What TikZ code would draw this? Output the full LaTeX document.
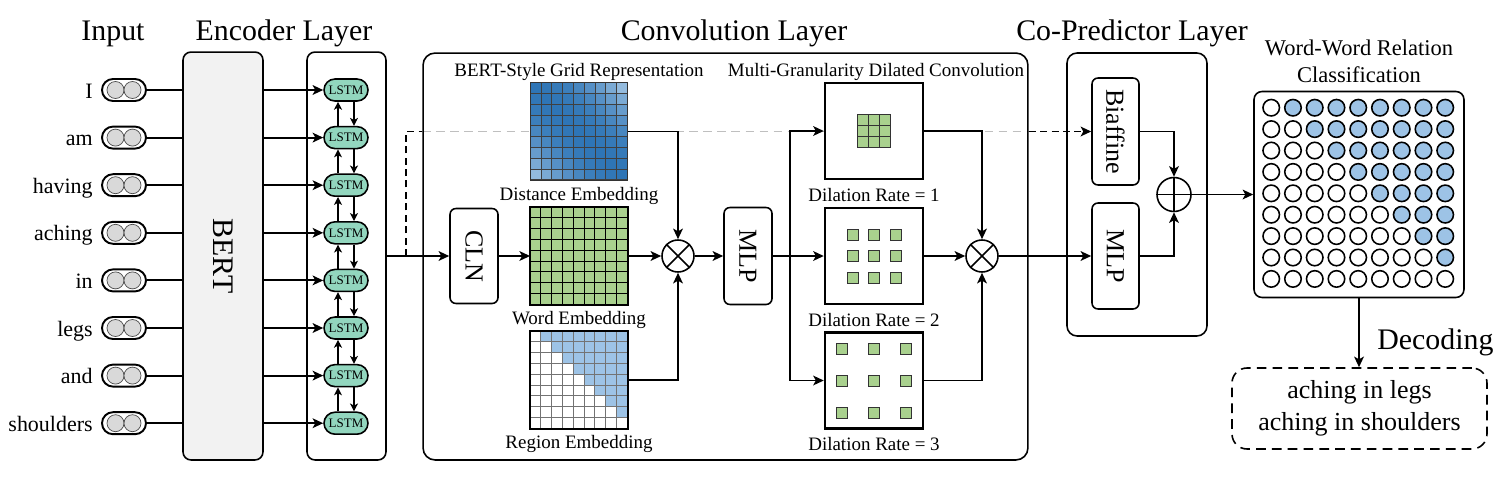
\documentclass[tikz,border=0pt]{standalone}
\usepackage{fontspec}
\setmainfont{Liberation Serif}
\usetikzlibrary{arrows.meta, positioning, calc}
\definecolor{tokgray}{RGB}{217,217,217}
\definecolor{bertgray}{RGB}{242,242,242}
\definecolor{lstmgreen}{RGB}{146,214,190}
\definecolor{gridgreen}{RGB}{169,209,142}
\definecolor{regblue}{RGB}{157,195,230}
\definecolor{darkblue}{RGB}{46,117,182}
\definecolor{paleblue}{RGB}{189,215,238}
\pgfdeclarelayer{bg}
\pgfsetlayers{bg,main}

\begin{document}
\begin{tikzpicture}[x=0.02cm, y=-0.02cm,
  conn/.style={line width=1.1pt},
  arr/.style={conn, -{Stealth[length=6pt,width=5.5pt,inset=1.5pt]}},
  sarr/.style={conn, -{Stealth[length=4.5pt,width=4.5pt,inset=1.2pt]}},
  dline/.style={line width=1.1pt, dash pattern=on 4pt off 2.5pt},
  gline/.style={gray!50, line width=1pt, dash pattern=on 5pt off 3pt},
  title/.style={font=\fontsize{17}{20}\selectfont, anchor=base, inner sep=0pt},
  capt/.style={font=\fontsize{10.8}{13}\selectfont, anchor=base, inner sep=0pt},
  word/.style={font=\fontsize{12.5}{15}\selectfont, anchor=base east, inner sep=0pt},
  tok/.style={draw, line width=1.1pt, fill=white, rounded corners=0.22cm, minimum width=0.88cm, minimum height=0.44cm, inner sep=0pt},
  tokdot/.style={circle, draw=black!70, line width=0.4pt, fill=tokgray, minimum size=0.34cm, inner sep=0pt},
  layerbox/.style={draw, line width=0.9pt, rounded corners=0.2cm},
  lstm/.style={draw, line width=0.9pt, fill=lstmgreen, rounded corners=0.22cm, minimum width=0.88cm, minimum height=0.44cm, inner sep=0pt, font=\fontsize{7.4}{8}\selectfont},
  rbox/.style={draw, line width=0.9pt, fill=white, rounded corners=0.12cm, inner sep=0pt, minimum width=0.96cm, font=\fontsize{14.8}{16}\selectfont},
  gridbox/.style={minimum size=1.944cm, inner sep=0pt},
  dilbox/.style={draw, line width=1.4pt, fill=white, minimum width=1.96cm, minimum height=1.92cm, inner sep=0pt},
  kernel/.style={draw=black!80, line width=0.5pt, fill=gridgreen, minimum size=0.22cm, inner sep=0pt},
  op/.style={circle, draw, line width=0.9pt, fill=white, minimum size=0.64cm, inner sep=0pt},
  cell/.style={circle, draw, line width=0.9pt, minimum size=0.33cm, inner sep=0pt}
]
  \useasboundingbox (0,0) rectangle (1495,477);

  % layer titles
  \node[title] at (113,40) {Input};
  \node[title] at (284,40) {Encoder Layer};
  \node[title] at (734,40) {Convolution Layer};
  \node[title] at (1132,40) {Co-Predictor Layer};

  % encoder layer
  \node[layerbox, fill=bertgray, rounded corners=0.16cm, minimum width=1.6cm, minimum height=8.16cm] (bert) at (223,256) {\rotatebox{-90}{\fontsize{17}{20}\selectfont BERT}};
  \node[layerbox, rounded corners=0.16cm, minimum width=1.58cm, minimum height=8.16cm] (enc) at (346.5,256) {};

  \foreach \w [count=\i from 0] in {I,am,having,aching,in,legs,and,shoulders}{
    \pgfmathsetmacro\yy{90+47.6*\i}
    \node[word] (w\i) at (93,\yy+8) {\w};
    \node[tok] (t\i) at (124,\yy) {};
    \node[tokdot] at ([xshift=-0.17cm]t\i.center) {};
    \node[tokdot] at ([xshift=0.17cm]t\i.center) {};
    \node[lstm] (l\i) at (346,\yy) {LSTM};
    \draw[conn] (t\i.east) -- (t\i.east -| bert.west);
    \draw[arr] (t\i.east -| bert.east) -- (l\i.west);
  }
  \foreach \i [evaluate=\i as \j using int(\i+1)] in {0,...,6}{
    \draw[sarr] ([xshift=-0.16cm]l\j.north) -- ([xshift=-0.16cm]l\i.south);
    \draw[sarr] ([xshift=0.16cm]l\i.south) -- ([xshift=0.16cm]l\j.north);
  }

  % convolution layer
  \node[layerbox, rounded corners=0.24cm, minimum width=12.1cm, minimum height=8.14cm] (conv) at (725.5,256.5) {};
  \node[rbox, minimum height=1.9cm] (cln) at (474,256) {\rotatebox{-90}{CLN}};
  \coordinate (split) at (406,256);
  \draw[arr] (enc.east |- cln) -- (cln.west);

  \node[gridbox] (dist) at (579,131.5) {};
  \node[gridbox] (wemb) at (579,256) {};
  \node[gridbox] (remb) at (579,380) {};
  \foreach \ri in {0,...,8}
    \foreach \ci in {0,...,8}{
      \pgfmathtruncatemacro\p{100-1.1*(\ri-\ci)*(\ri-\ci)}
      \ifnum\ci>\ri \def\rc{regblue}\else\def\rc{white}\fi
      \draw[black!75, line width=0.4pt, fill=darkblue!\p!paleblue] ([shift={(\ci*10.8,\ri*10.8)}]dist.north west) rectangle ++(10.8,10.8);
      \draw[line width=0.5pt, fill=gridgreen] ([shift={(\ci*10.8,\ri*10.8)}]wemb.north west) rectangle ++(10.8,10.8);
      \draw[black!55, line width=0.5pt, fill=\rc] ([shift={(\ci*10.8,\ri*10.8)}]remb.north west) rectangle ++(10.8,10.8);
    }
  \draw[black!80, line width=0.6pt] (dist.north west) rectangle (dist.south east);
  \draw[line width=1.4pt] (wemb.north west) rectangle (wemb.south east);
  \draw[line width=1.4pt] (remb.north west) rectangle (remb.south east);

  \node[capt] at (579,76) {BERT-Style Grid Representation};
  \node[capt] at ([yshift=-0.4cm]dist.south) {Distance Embedding};
  \node[capt] at ([yshift=-0.4cm]wemb.south) {Word Embedding};
  \node[capt] at ([yshift=-0.4cm]remb.south) {Region Embedding};

  \node[op] (mul1) at (678,256) {};
  \draw[line width=0.9pt] (mul1.north west) -- (mul1.south east) (mul1.north east) -- (mul1.south west);
  \node[rbox, minimum height=1.94cm] (mlp1) at (748,256) {\rotatebox{-90}{MLP}};

  \node[dilbox] (dil1) at (874,131) {};
  \node[dilbox] (dil2) at (874,256) {};
  \node[dilbox] (dil3) at (874,380.5) {};
  \foreach \b/\s in {1/11,2/21.5,3/32}
    \foreach \dx in {-1,0,1}
      \foreach \dy in {-1,0,1}
        \node[kernel] at ([shift={({\dx*\s},{\dy*\s})}]dil\b.center) {};
  \node[capt] at (876,76) {Multi-Granularity Dilated Convolution};
  \node[capt] at ([yshift=-0.42cm]dil1.south) {Dilation Rate = 1};
  \node[capt] at ([yshift=-0.42cm]dil2.south) {Dilation Rate = 2};
  \node[capt] at ([yshift=-0.42cm]dil3.south) {Dilation Rate = 3};

  \node[op] (mul2) at (982,256) {};
  \draw[line width=0.9pt] (mul2.north west) -- (mul2.south east) (mul2.north east) -- (mul2.south west);

  % co-predictor layer
  \node[layerbox, minimum width=2.8cm, minimum height=5.66cm] (copred) at (1137,194.5) {};
  \node[rbox, minimum width=0.94cm, minimum height=2.14cm] (biaf) at (1115.5,131.5) {\rotatebox{-90}{Biaffine}};
  \node[rbox, minimum width=0.94cm, minimum height=2.12cm] (mlp2) at (1115.5,256) {\rotatebox{-90}{MLP}};
  \node[op, minimum size=0.68cm] (add) at (1174,194.5) {};
  \draw[line width=0.9pt] (add.north) -- (add.south) (add.west) -- (add.east);

  % word-word relation classification
  \node[layerbox, rounded corners=0.16cm, minimum width=4.2cm, minimum height=4.12cm] (cls) at (1359,194.5) {};
  \foreach \ri in {0,...,8}
    \foreach \ci in {0,...,8}{
      \ifnum\ci>\ri \def\rc{regblue}\else\def\rc{white}\fi
      \node[cell, fill=\rc] at ([shift={(18+21.75*\ci,17+21.4*\ri)}]cls.north west) {};
    }
  \node[anchor=south, align=center, inner sep=0pt, font=\fontsize{12.8}{15.4}\selectfont] at (1359,83) {Word-Word Relation\\Classification};

  \node[draw, line width=0.9pt, dash pattern=on 5.5pt off 3.5pt, rounded corners=0.3cm, minimum width=5.1cm, minimum height=1.62cm, align=center, font=\fontsize{14.8}{18.3}\selectfont] (dec) at (1359.5,408.5) {aching in legs\\aching in shoulders};
  \node[title, anchor=base west] at (1377,349) {Decoding};

  % connectors
  \draw[dline] (split) |- (conv.west |- dist.east);
  \draw[dline, -{Stealth[length=6pt,width=5.5pt,inset=1.5pt]}] (conv.east |- biaf.west) -- (biaf.west);
  \begin{pgfonlayer}{bg}
    \draw[gline] (conv.west |- dist.east) -- (conv.east |- biaf.west);
  \end{pgfonlayer}
  \draw[arr] (cln.east) -- (wemb.west);
  \draw[arr] (dist.east) -| (mul1.north);
  \draw[arr] (wemb.east) -- (mul1.west);
  \draw[arr] (remb.east) -| (mul1.south);
  \draw[arr] (mul1.east) -- (mlp1.west);
  \coordinate (br) at (790,256);
  \draw[arr] (mlp1.east) -- (dil2.west);
  \draw[arr] (br) |- (dil1.west);
  \draw[arr] (br) |- (dil3.west);
  \draw[arr] (dil1.east) -| (mul2.north);
  \draw[arr] (dil2.east) -- (mul2.west);
  \draw[arr] (dil3.east) -| (mul2.south);
  \draw[arr] (mul2.east) -- (mlp2.west);
  \draw[arr] (biaf.east) -| (add.north);
  \draw[arr] (mlp2.east) -| (add.south);
  \draw[arr] (add.east) -- (cls.west);
  \draw[arr] (cls.south) -- (cls.south |- dec.north);
\end{tikzpicture}
\end{document}
